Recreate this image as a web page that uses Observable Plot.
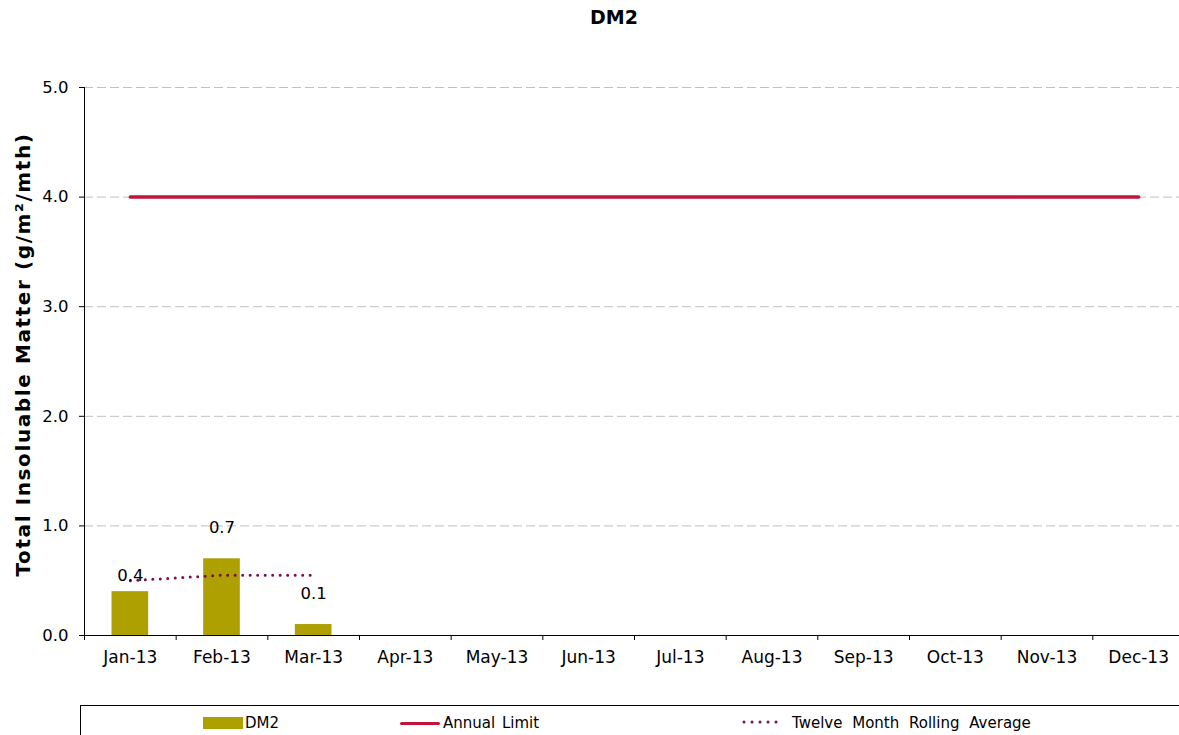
<!DOCTYPE html>
<html><head><meta charset="utf-8">
<script src="https://cdn.jsdelivr.net/npm/d3@7"></script>
<script src="https://cdn.jsdelivr.net/npm/@observablehq/plot@0.6"></script>
<style>
body{margin:0;width:1179px;height:735px;overflow:hidden;position:relative;background:#fff;font-family:"DejaVu Sans",Verdana,sans-serif;color:#000;}
#title{position:absolute;top:6px;left:0;width:1228px;text-align:center;font-weight:bold;font-size:19px;}
#chart{position:absolute;top:0;left:0;width:1200px;}
#chart svg{max-width:none !important;}
#legend{position:absolute;left:80px;top:705px;width:1200px;height:60px;border:1px solid #000;}
.lg{position:absolute;font-size:15px;line-height:16px;}
</style></head>
<body>
<div id="chart"></div>
<div id="title">DM2</div>
<div id="legend"></div>
<script>
const months = ["Jan-13","Feb-13","Mar-13","Apr-13","May-13","Jun-13","Jul-13","Aug-13","Sep-13","Oct-13","Nov-13","Dec-13"];
const dm2 = [0.4, 0.7, 0.1, null, null, null, null, null, null, null, null, null];
const annualLimit = [4.0, 4.0, 4.0, 4.0, 4.0, 4.0, 4.0, 4.0, 4.0, 4.0, 4.0, 4.0];
const rollingAverage = [0.50, 0.55, 0.55, null, null, null, null, null, null, null, null, null];
const yTicks = [0, 1, 2, 3, 4, 5];
const seriesNames = ["DM2", "Annual Limit", "Twelve Month Rolling Average"];
const yTitle = "Total Insoluable Matter (g/m²/mth)";

const C_BAR = "#ADA000", C_LIMIT = "#C0143C", C_ROLL = "#7F0A50";
const FONT = '"DejaVu Sans", Verdana, sans-serif';

const barData = months.map((m, i) => ({month: m, value: dm2[i]})).filter(d => d.value != null);
const limitData = months.map((m, i) => ({month: m, value: annualLimit[i]})).filter(d => d.value != null);
const rollData = months.map((m, i) => ({month: m, value: rollingAverage[i]})).filter(d => d.value != null);

const W = 1200, ML = 84, MR = 16;
const half = (W - ML - MR) / months.length / 2;

const chart = Plot.plot({
  width: W, height: 700,
  marginLeft: ML, marginRight: MR, marginTop: 87, marginBottom: 65,
  style: {fontFamily: FONT, fontSize: "16px", color: "#000", background: "transparent", overflow: "visible", maxWidth: "none"},
  x: {domain: months, paddingInner: 0.6, paddingOuter: 0.3, round: false, label: null},
  y: {domain: [0, 5], label: null},
  marks: [
    Plot.ruleY(yTicks.slice(1), {stroke: "#c0c0c0", strokeWidth: 1, strokeDasharray: "9,4"}),
    Plot.axisY({ticks: yTicks, tickFormat: d3.format(".1f"), tickSize: 5, tickPadding: 11, label: null, stroke: "#000", fontSize: 16.5}),
    Plot.frame({anchor: "left", stroke: "#000"}),
    Plot.barY(barData, {x: "month", y: "value", fill: C_BAR}),
    Plot.lineY(limitData, {x: "month", y: "value", stroke: C_LIMIT, strokeWidth: 3.5}),
    Plot.lineY(rollData, {x: "month", y: "value", stroke: C_ROLL, strokeWidth: 3, strokeDasharray: "0,7.5", strokeLinecap: "round"}),
    Plot.text(barData.filter(d => d.month === "Jan-13"), {x: "month", y: "value", text: d => d.value.toFixed(1), dy: -16, fill: "#000", fontSize: 16.5}),
    Plot.text(barData.filter(d => d.month !== "Jan-13"), {x: "month", y: "value", text: d => d.value.toFixed(1), dy: -31, fill: "#000", fontSize: 16.5}),
    Plot.ruleY([0], {stroke: "#000", strokeWidth: 1}),
    Plot.axisX({tickSize: 0, tickPadding: 15, label: null, fontSize: 17}),
    Plot.axisX({tickSize: 5, tickFormat: () => "", dx: -half, label: null, stroke: "#000"}),
    Plot.text([yTitle], {frameAnchor: "left", textAnchor: "middle", rotate: -90, dx: -61, dy: -7, fontWeight: "bold", fontSize: 20, fill: "#000"})
  ]
});
document.getElementById("chart").appendChild(chart);
d3.select(chart).selectAll("text").filter(function() { return this.textContent === yTitle; }).style("letter-spacing", "1.6px");

// Legend
const body = document.body;
function add(html, style) { const d = document.createElement("div"); d.className = "lg"; d.innerHTML = html; Object.assign(d.style, style); body.appendChild(d); }
add("", {left: "203px", top: "717px", width: "40px", height: "12px", background: C_BAR});
add(seriesNames[0], {left: "245px", top: "715px"});
add("", {left: "400px", top: "721.5px", width: "40px", height: "3px", background: C_LIMIT, borderRadius: "2px"});
add(seriesNames[1], {left: "443px", top: "715px", wordSpacing: "2px"});
add(`<svg width="44" height="6"><line x1="2" y1="3" x2="42" y2="3" stroke="${C_ROLL}" stroke-width="3" stroke-dasharray="0,8" stroke-linecap="round"/></svg>`, {left: "742px", top: "719px", lineHeight: "0"});
add(seriesNames[2], {left: "792px", top: "715px", wordSpacing: "5px"});
</script>
</body></html>
